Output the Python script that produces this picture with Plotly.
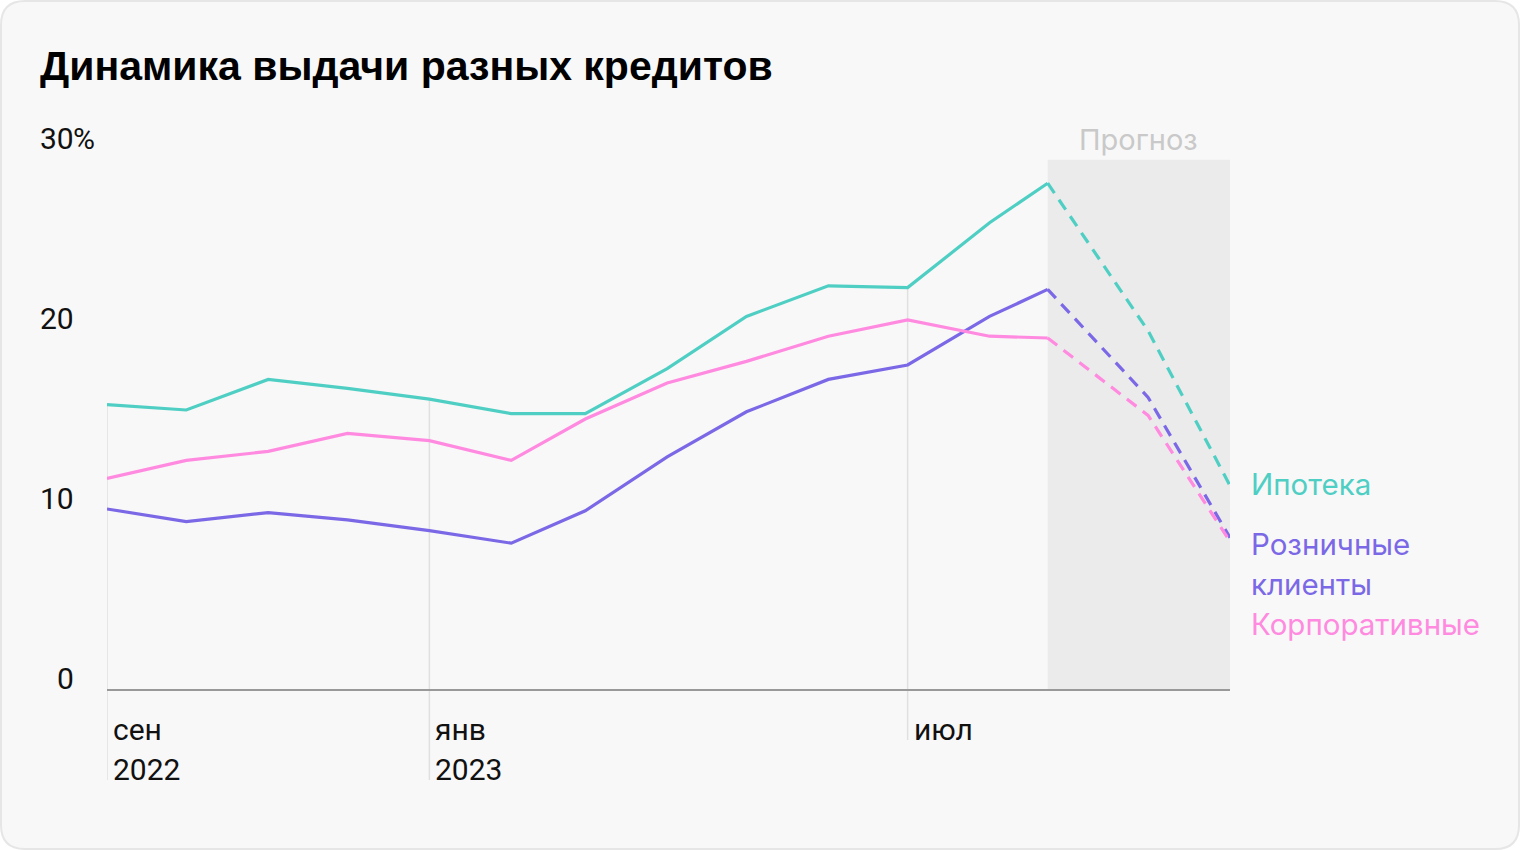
import plotly.graph_objects as go

# ---------------- data ----------------
dates = ["2022-09-01", "2022-10-01", "2022-11-01", "2022-12-01", "2023-01-01",
         "2023-02-01", "2023-03-01", "2023-04-01", "2023-05-01", "2023-06-01",
         "2023-07-01", "2023-08-01", "2023-08-23", "2023-09-30", "2023-10-31"]
n_actual = 13  # points up to and including 2023-08-23 are actual, the rest forecast

mortgage = [15.8, 15.5, 17.2, 16.7, 16.1, 15.3, 15.3, 17.8, 20.7, 22.4, 22.3, 25.9, 28.1, 19.9, 11.3]
retail = [10.0, 9.3, 9.8, 9.4, 8.8, 8.1, 9.9, 12.9, 15.4, 17.2, 18.0, 20.7, 22.2, 16.2, 8.4]
corporate = [11.7, 12.7, 13.2, 14.2, 13.8, 12.7, 15.0, 17.0, 18.2, 19.6, 20.5, 19.6, 19.5, 15.2, 8.2]

series_label_lines = [["Ипотека"], ["Розничные", "клиенты"], ["Корпоративные"]]
series_values = [mortgage, retail, corporate]
series_colors = ["#4fcfc4", "#7b68e6", "#ff8ae0"]
label_centers_px = [[484], [544, 584], [624]]

y_ticks = [0, 10, 20, 30]
tick_dates = ["2022-09-01", "2023-01-01", "2023-07-01"]
tick_month = ["сен", "янв", "июл"]
tick_year = ["2022", "2023", ""]
grid_bottom_px = [780, 780, 740]

title_text = "Динамика выдачи разных кредитов"
forecast_text = "Прогноз"
forecast_top = 29.4

# ---------------- layout geometry ----------------
W, H = 1520, 850
L, R, T, B = 107, 1230, 149, 689
PW, PH = R - L, B - T


def px_x(px):
    return (px - L) / PW


def px_y(py):
    return (B - py) / PH


FONT = "Roboto"
LABEL_FONT = "Inter"

fig = go.Figure()

# lines: actual (solid) + forecast (dashed)
for vals, col in zip(series_values, series_colors):
    fig.add_trace(go.Scatter(x=dates[:n_actual], y=vals[:n_actual], mode="lines",
                             line=dict(color=col, width=3.2), hoverinfo="skip",
                             showlegend=False))
for vals, col in zip(series_values, series_colors):
    fig.add_trace(go.Scatter(x=dates[n_actual - 1:], y=vals[n_actual - 1:], mode="lines",
                             line=dict(color=col, width=3.2, dash="12px,8px"),
                             hoverinfo="skip", showlegend=False))

shapes = []
# card background
x0, x1, y0, y1, r = 1, 1519, 1, 849, 24
pts = [("M", x0 + r, y0), ("L", x1 - r, y0), ("Q", x1, y0, x1, y0 + r), ("L", x1, y1 - r),
       ("Q", x1, y1, x1 - r, y1), ("L", x0 + r, y1), ("Q", x0, y1, x0, y1 - r),
       ("L", x0, y0 + r), ("Q", x0, y0, x0 + r, y0)]
path = ""
for p in pts:
    cmd = p[0]
    coords = p[1:]
    segs = []
    for i in range(0, len(coords), 2):
        segs.append(f"{px_x(coords[i]):.5f},{px_y(coords[i + 1]):.5f}")
    path += cmd + " ".join(segs) + " "
path += "Z"
shapes.append(dict(type="path", path=path, xref="paper", yref="paper",
                   fillcolor="#f8f8f8", line=dict(color="#e6e6e6", width=2), layer="below"))

# forecast shading
shapes.append(dict(type="rect", xref="x", yref="y", x0=dates[n_actual - 1], x1=dates[-1],
                   y0=0, y1=forecast_top, fillcolor="#ebebeb", line=dict(width=0), layer="below"))

# vertical guide lines from top series value down through the labels
for d, gb in zip(tick_dates, grid_bottom_px):
    idx = dates.index(d)
    top = max(v[idx] for v in series_values)
    shapes.append(dict(type="line", xref="x", yref="y", x0=d, x1=d, y0=0, y1=top,
                       line=dict(color="#e0e0e0", width=1.5), layer="below"))
    shapes.append(dict(type="line", xref="x", yref="paper", x0=d, x1=d, y0=0, y1=px_y(gb),
                       line=dict(color="#e0e0e0", width=1.5), layer="below"))

annotations = []
# y tick labels
for v in y_ticks:
    annotations.append(dict(xref="paper", yref="y", x=0, y=v, text=str(v), showarrow=False,
                            xanchor="right", yanchor="middle", xshift=-31, yshift=11,
                            font=dict(family=FONT, size=30, color="#111111")))
annotations.append(dict(xref="paper", yref="y", x=0, y=max(y_ticks), text="%", showarrow=False,
                        xanchor="left", yanchor="middle", xshift=-36, yshift=11,
                        font=dict(family=FONT, size=30, color="#111111")))

# x labels
for d, m, yv in zip(tick_dates, tick_month, tick_year):
    annotations.append(dict(xref="x", yref="paper", x=d, y=0, text=m, showarrow=False,
                            xanchor="left", yanchor="middle", xshift=4, yshift=-(729 - B),
                            font=dict(family=FONT, size=30, color="#111111")))
    if yv:
        annotations.append(dict(xref="x", yref="paper", x=d, y=0, text=yv, showarrow=False,
                                xanchor="left", yanchor="middle", xshift=4, yshift=-(769 - B),
                                font=dict(family=FONT, size=30, color="#111111")))

# series labels (placed at the series' last point, lines stacked)
for lines, vals, col, centers in zip(series_label_lines, series_values, series_colors,
                                     label_centers_px):
    yend_px = B - vals[-1] / 30 * PH
    for txt, cy in zip(lines, centers):
        annotations.append(dict(xref="x", yref="y", x=dates[-1], y=vals[-1], text=txt,
                                showarrow=False, xanchor="left", yanchor="middle", align="left",
                                xshift=19, yshift=yend_px - cy,
                                font=dict(family=LABEL_FONT, size=29.5, color=col)))

# forecast label
annotations.append(dict(xref="x", yref="y", x="2023-09-26 12:00", y=forecast_top, text=forecast_text,
                        showarrow=False, xanchor="center", yanchor="middle", yshift=20,
                        font=dict(family=LABEL_FONT, size=29, color="#c9c9c9")))

fig.update_layout(
    width=W, height=H,
    margin=dict(l=L, r=W - R, t=T, b=H - B, pad=0),
    paper_bgcolor="white", plot_bgcolor="rgba(0,0,0,0)",
    title=dict(text=f"<b>{title_text}</b>", x=40 / W, xanchor="left", y=1 - 66 / H,
               yanchor="middle", xref="container", yref="container",
               font=dict(family="Liberation Sans", size=41, color="#000000")),
    xaxis=dict(type="date", range=[dates[0], dates[-1]], showgrid=False, zeroline=False,
               showticklabels=False, ticks="", showline=True, linecolor="#999999", linewidth=2),
    yaxis=dict(range=[0, 30], showgrid=False, zeroline=False, showticklabels=False, ticks=""),
    shapes=shapes, annotations=annotations, showlegend=False,
)

fig.write_html("out.html")
